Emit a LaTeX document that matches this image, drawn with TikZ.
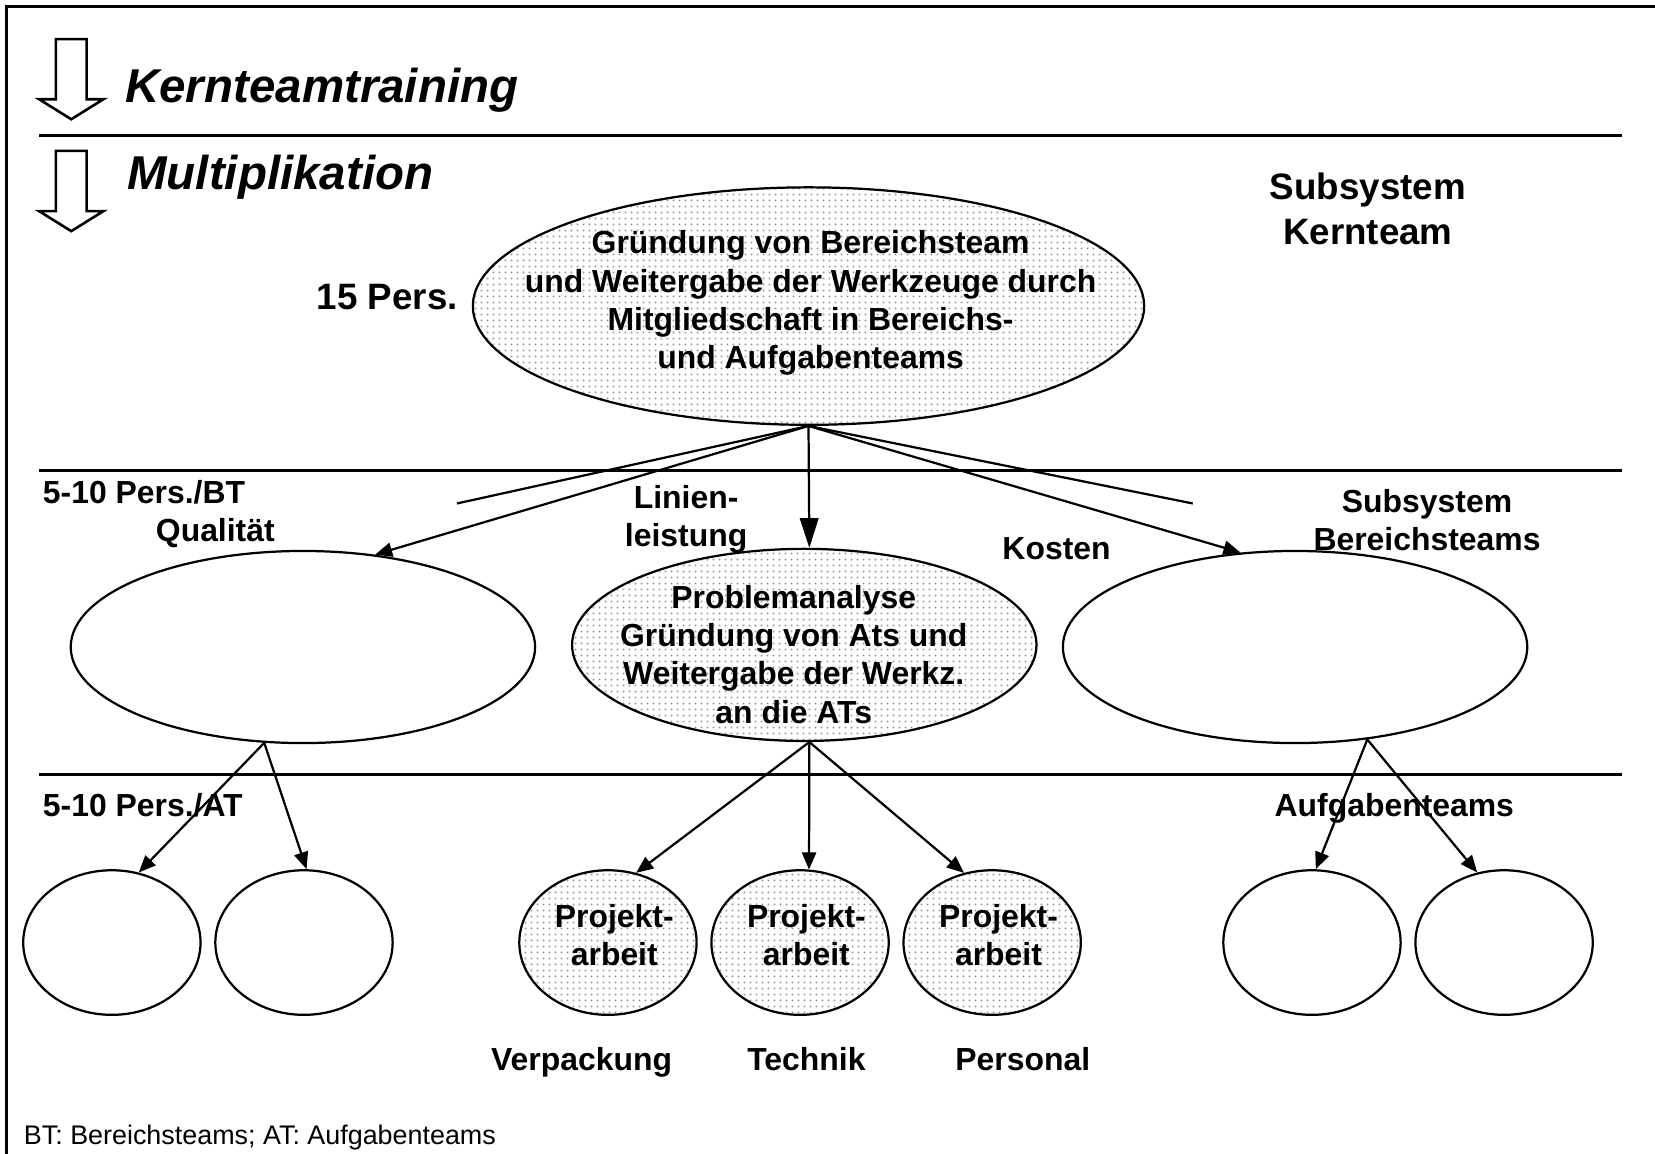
\documentclass[tikz,border=0pt]{standalone}
\usepackage{fontspec}
\setmainfont{Liberation Sans}
\usepackage{tikz}
\usetikzlibrary{arrows.meta, shapes.geometric, patterns.meta}

\tikzdeclarepattern{
  name=dotgrid,
  type=uncolored,
  bounding box={(0pt,0pt) and (1.5pt,1.5pt)},
  tile size={(1.5pt,1.5pt)},
  code={\fill (0.5pt,0.5pt) rectangle (1pt,1pt);}
}

\begin{document}
\begin{tikzpicture}[
    sep/.style={line width=0.8pt},
    team/.style={draw, ellipse, line width=0.6pt, inner sep=0pt,
      minimum width=4.40cm, minimum height=1.82cm},
    smallteam/.style={team, minimum width=1.68cm, minimum height=1.37cm},
    dotfill/.style={pattern=dotgrid, pattern color=black!40},
    lbl/.style={inner sep=0pt, align=center, font=\bfseries\fontsize{8.6}{10.3}\selectfont},
    biglbl/.style={inner sep=0pt, align=center, font=\bfseries\fontsize{9.9}{11.95}\selectfont},
    title/.style={inner sep=0pt, anchor=base west, font=\bfseries\itshape\fontsize{12.8}{15}\selectfont},
    link/.style={line width=0.6pt, -{Triangle[length=4.6pt,width=3.8pt]}},
    biglink/.style={line width=0.6pt, -{Triangle[length=8pt,width=5pt]}},
  ]
  \useasboundingbox (0,0) rectangle (15.68,10.93);

  % frame and separators
  \draw[sep] (0.06,0) -- (0.06,10.87) -- (15.68,10.87);
  \foreach \y in {9.65, 6.47, 3.59}
    \draw[sep] (0.37,\y) -- (15.37,\y);

  % block arrows at the left
  \foreach \t/\b/\p in {10.56/9.99/9.80, 9.50/8.93/8.74}
    \draw[line width=0.7pt] (0.53,\t) -- (0.82,\t) -- (0.82,\b) -- (0.98,\b)
      -- (0.675,\p) -- (0.37,\b) -- (0.53,\b) -- cycle;
  \node[title] (kt) at (1.18,9.96) {Kernteamtraining};
  \node[title] (mp) at (1.20,9.13) {Multiplikation};

  % core team
  \node[team, dotfill, minimum width=6.36cm, minimum height=2.25cm] (gruendung) at (7.66,8.03) {};
  \node[lbl] (gruendung-txt) at (7.68,8.06) {Gründung von Bereichsteam\\und Weitergabe der Werkzeuge durch\\Mitgliedschaft in Bereichs-\\und Aufgabenteams};
  \node[biglbl] (pers15) at (3.67,8.12) {15 Pers.};
  \node[biglbl] (subkt) at (12.96,8.95) {Subsystem\\Kernteam};

  % area teams
  \node[team] (qualbt) at (2.87,4.80) {};
  \node[team, dotfill] (linienbt) at (7.62,4.82) {};
  \node[team] (kostenbt) at (12.27,4.80) {};
  \node[lbl] (linien-txt) at (7.52,4.73) {Problemanalyse\\Gründung von Ats und\\Weitergabe der Werkz.\\an die ATs};
  \node[lbl, anchor=west] (btlbl) at (0.40,6.27) {5-10 Pers./BT};
  \node[lbl] (quallbl) at (2.04,5.88) {Qualität};
  \node[lbl] (linienlbl) at (6.50,6.01) {Linien-\\leistung};
  \node[lbl] (kostenlbl) at (10.01,5.73) {Kosten};
  \node[lbl] (subbt) at (13.52,6.00) {Subsystem\\Bereichsteams};

  \coordinate (lend) at (4.33,6.16);
  \coordinate (rend) at (11.30,6.16);
  \draw[line width=0.6pt] (gruendung.south) -- (lend);
  \draw[line width=0.6pt] (gruendung.south) -- (rend);
  \draw[link] (gruendung.south) -- (qualbt.52);
  \draw[biglink] (gruendung.south) -- (linienbt.87);
  \draw[link] (gruendung.south) -- (kostenbt.120);

  % task teams
  \node[smallteam] (q1) at (1.06,2.00) {};
  \node[smallteam] (q2) at (2.88,2.00) {};
  \node[smallteam, dotfill] (pa1) at (5.76,2.00) {};
  \node[smallteam, dotfill] (pa2) at (7.58,2.00) {};
  \node[smallteam, dotfill] (pa3) at (9.40,2.00) {};
  \node[smallteam] (k1) at (12.43,2.00) {};
  \node[smallteam] (k2) at (14.25,2.00) {};
  \foreach \n in {pa1, pa2, pa3}
    \node[lbl, xshift=0.06cm, yshift=0.07cm] (\n-txt) at (\n) {Projekt-\\arbeit};
  \node[lbl, anchor=west] (atlbl) at (0.40,3.30) {5-10 Pers./AT};
  \node[lbl, anchor=base] (aufg) at (13.21,3.19) {Aufgabenteams};

  \draw[link] (qualbt.248) -- (q1.69);
  \draw[link] (qualbt.248) -- (q2.88);
  \draw[link] (linienbt.273) -- (pa1.68);
  \draw[link] (linienbt.273) -- (pa2.83);
  \draw[link] (linienbt.273) -- (pa3.112);
  \draw[link] (kostenbt.308) -- (k1.87);
  \draw[link] (kostenbt.308) -- (k2.111);

  \node[lbl, anchor=base] (verp) at (5.51,0.79) {Verpackung};
  \node[lbl, anchor=base] (technik) at (7.64,0.79) {Technik};
  \node[lbl, anchor=base] (personal) at (9.69,0.79) {Personal};

  \node[inner sep=0pt, anchor=base west, font=\fontsize{7.25}{8}\selectfont] (legende) at (0.22,0.09) {BT: Bereichsteams; AT: Aufgabenteams};
\end{tikzpicture}
\end{document}
